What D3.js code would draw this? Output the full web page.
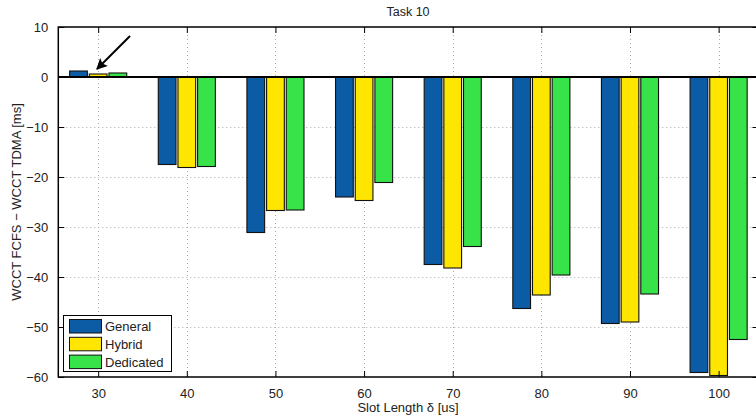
<!DOCTYPE html>
<html><head><meta charset="utf-8">
<script src="https://cdn.jsdelivr.net/npm/d3@7"></script>
<style>body{margin:0;background:#fff;}svg{display:block;font-family:"Liberation Sans",Arial,sans-serif;}</style>
</head><body><svg id="c" width="756" height="419"></svg>
<script>
const categories = [30, 40, 50, 60, 70, 80, 90, 100];
const seriesNames = ["General", "Hybrid", "Dedicated"];
const general   = [1.2, -17.5, -31.1, -24.0, -37.5, -46.3, -49.3, -59.1];
const hybrid    = [0.6, -18.1, -26.7, -24.7, -38.2, -43.6, -49.0, -59.7];
const dedicated = [0.8, -17.9, -26.6, -21.1, -33.9, -39.6, -43.4, -52.5];
const yTicks = [10, 0, -10, -20, -30, -40, -50, -60];
const colors = ["#0b5ca5", "#ffe600", "#38e34a"];
const series = [general, hybrid, dedicated];

const svg = d3.select("#c");
const L = 58.3, R = 758.5, T = 27, B = 377;
const x = d3.scaleLinear().domain([25.5, 104.5]).range([L, R]);
const y = d3.scaleLinear().domain([-60, 10]).range([B, T]);
const off = [-2.22, 0, 2.22], bw = 2.0;

// grid
const grid = svg.append("g").attr("stroke", "#aaa").attr("stroke-dasharray", "1,3").attr("stroke-width", 1);
yTicks.forEach(t => { if (t !== 0 && t !== 10 && t !== -60) grid.append("line").attr("x1", L).attr("x2", R).attr("y1", Math.round(y(t)) + 0.5).attr("y2", Math.round(y(t)) + 0.5); });
categories.forEach(c => grid.append("line").attr("x1", Math.round(x(c)) + 0.5).attr("x2", Math.round(x(c)) + 0.5).attr("y1", T).attr("y2", B));

// bars
series.forEach((s, i) => {
  svg.append("g").selectAll("rect").data(s).join("rect")
    .attr("x", (d, j) => x(categories[j] + off[i] - bw / 2))
    .attr("width", x(bw) - x(0))
    .attr("y", d => y(Math.max(0, d)))
    .attr("height", d => Math.abs(y(d) - y(0)))
    .attr("fill", colors[i]).attr("stroke", "#111").attr("stroke-width", 1.1);
});

// baseline
svg.append("line").attr("x1", L).attr("x2", R).attr("y1", y(0)).attr("y2", y(0)).attr("stroke", "#000").attr("stroke-width", 2);

// frame
svg.append("rect").attr("x", L).attr("y", T).attr("width", R - L).attr("height", B - T).attr("fill", "none").attr("stroke", "#000").attr("stroke-width", 1.5);

// axes
const yAx = svg.append("g").attr("transform", `translate(${L},0)`).call(d3.axisLeft(y).tickValues(yTicks).tickSizeInner(-6).tickSizeOuter(0).tickPadding(10).tickFormat(d => d < 0 ? "\u2212" + Math.abs(d) : d));
const yAxR = svg.append("g").attr("transform", `translate(${R},0)`).call(d3.axisRight(y).tickValues(yTicks).tickSizeInner(-6).tickSizeOuter(0).tickFormat(""));
const xAx = svg.append("g").attr("transform", `translate(0,${B})`).call(d3.axisBottom(x).tickValues(categories).tickSizeInner(-6).tickSizeOuter(0).tickPadding(12));
const xAxT = svg.append("g").attr("transform", `translate(0,${T})`).call(d3.axisTop(x).tickValues(categories).tickSizeInner(-6).tickSizeOuter(0).tickFormat(""));
[yAx, yAxR, xAx, xAxT].forEach(g => { g.select(".domain").remove(); g.selectAll("line").attr("stroke", "#000"); g.selectAll("text").attr("font-size", 13).attr("fill", "#222").attr("font-family", "Liberation Sans, Arial, sans-serif"); });

// titles
svg.append("text").attr("x", 408).attr("y", 16).attr("text-anchor", "middle").attr("font-size", 12.5).attr("fill", "#222").text("Task 10");
svg.append("text").attr("x", 408).attr("y", 412).attr("text-anchor", "middle").attr("font-size", 13).attr("fill", "#222").text("Slot Length \u03b4 [us]");
svg.append("text").attr("transform", "translate(21,202) rotate(-90)").attr("text-anchor", "middle").attr("font-size", 13).attr("fill", "#222").text("WCCT FCFS \u2212 WCCT TDMA [ms]");

// arrow
svg.append("defs").append("marker").attr("id", "ah").attr("viewBox", "0 0 10 10").attr("refX", 9).attr("refY", 5)
  .attr("markerWidth", 16).attr("markerHeight", 11).attr("markerUnits", "userSpaceOnUse").attr("orient", "auto")
  .append("path").attr("d", "M0,0 L10,5 L0,10 L2,5 Z").attr("fill", "#000");
svg.append("line").attr("x1", 130).attr("y1", 36).attr("x2", 97).attr("y2", 69).attr("stroke", "#000").attr("stroke-width", 2).attr("marker-end", "url(#ah)");

// legend
const lg = svg.append("g");
lg.append("rect").attr("x", 63.5).attr("y", 315.5).attr("width", 108).attr("height", 56).attr("fill", "#fff").attr("stroke", "#000").attr("stroke-width", 1);
seriesNames.forEach((n, i) => {
  lg.append("rect").attr("x", 69.5).attr("y", 319.5 + i * 17.8).attr("width", 32).attr("height", 13.5).attr("fill", colors[i]).attr("stroke", "#111");
  lg.append("text").attr("x", 105).attr("y", 331 + i * 17.8).attr("font-size", 13).attr("fill", "#222").text(n);
});
</script></body></html>
